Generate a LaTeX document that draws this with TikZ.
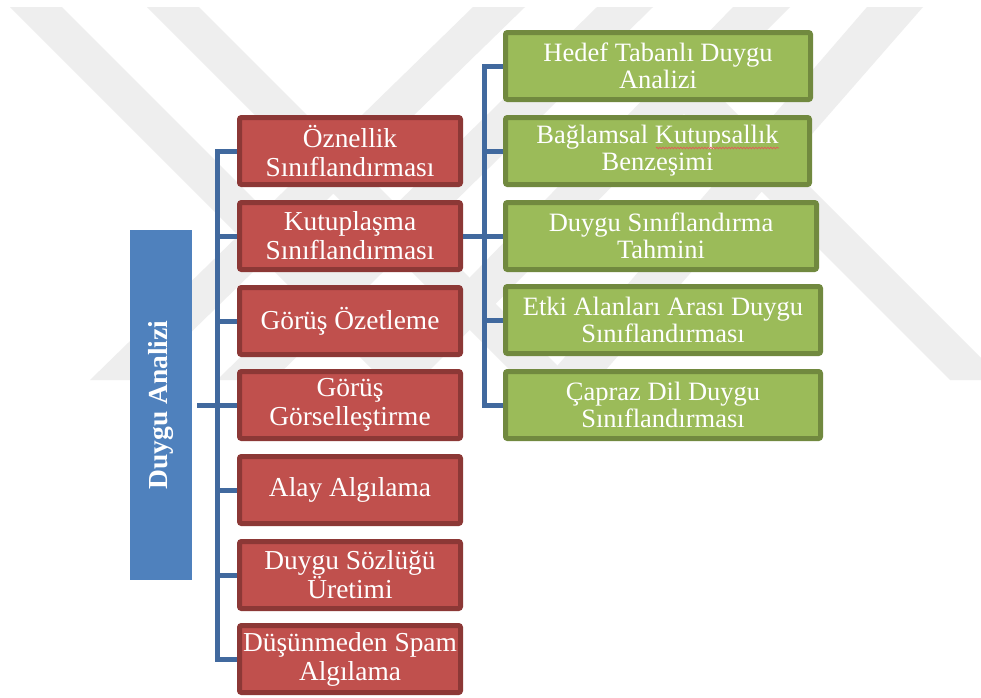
\documentclass[tikz,border=0pt]{standalone}
\usepackage{fontspec}
\setmainfont{Liberation Serif}
\usetikzlibrary{decorations.pathmorphing}
\definecolor{redfill}{HTML}{C0504D}
\definecolor{redline}{HTML}{8C3836}
\definecolor{greenfill}{HTML}{9BBB59}
\definecolor{greenline}{HTML}{71893F}
\definecolor{bluefill}{HTML}{4F81BD}
\definecolor{connblue}{HTML}{41699E}
\definecolor{wm}{gray}{0.935}
\definecolor{spell}{RGB}{228,90,90}
\begin{document}
\begin{tikzpicture}[x=1pt,y=-1pt,
  redbox/.style={draw=redline, fill=redfill, line width=5pt, rounded corners=2pt,
    minimum width=221pt, minimum height=67pt, inner sep=0pt, text=white, align=center,
    font=\fontsize{27.4}{29}\selectfont},
  greenbox/.style={draw=greenline, fill=greenfill, line width=5pt, rounded corners=2pt,
    minimum height=67pt, inner sep=0pt, text=white, align=center,
    font=\fontsize{26.5}{27}\selectfont},
  rootbox/.style={fill=bluefill, minimum width=62pt, minimum height=350pt, inner sep=0pt,
    text=white, font=\bfseries\fontsize{27.5}{30}\selectfont},
  conn/.style={draw=connblue, line width=5pt},
  wmband/.style={fill=wm}
]
\useasboundingbox (0,0) rectangle (981,697);
\fill[white] (0,0) rectangle (981,697);
% watermark
\fill[wmband] (10,7) -- (62,7) -- (435,380) -- (383,380) -- cycle;
\fill[wmband] (147,7) -- (199,7) -- (572,380) -- (520,380) -- cycle;
\fill[wmband] (473,7) -- (525,7) -- (142,380) -- (90,380) -- cycle;
\fill[wmband] (597,7) -- (653,7) -- (273,380) -- (217,380) -- cycle;
\fill[wmband] (733,7) -- (790,7) -- (420,380) -- (370,380) -- cycle;
\fill[wmband] (867,7) -- (923,7) -- (597,380) -- (545,380) -- cycle;
\fill[wmband] (655,85) -- (708,85) -- (1003,380) -- (950,380) -- cycle;

% root
\node[rootbox] (root) at (161,405) {\rotatebox{90}{Duygu Analizi}};

% red boxes
\node[redbox] (r1) at (350,151) {Öznellik\\Sınıflandırması};
\node[redbox] (r2) at (350,236) {Kutuplaşma\\Sınıflandırması};
\node[redbox] (r3) at (350,321) {Görüş Özetleme};
\node[redbox] (r4) at (350,405) {Görüş\\Görselleştirme};
\node[redbox] (r5) at (350,490) {Alay Algılama};
\node[redbox] (r6) at (350,575) {Duygu Sözlüğü\\Üretimi};
\node[redbox] (r7) at (350,659) {Düşünmeden Spam\\Algılama};

% green boxes
\node[greenbox, minimum width=305pt] (g1) at (658,66) {Hedef Tabanlı Duygu\\Analizi};
\node[greenbox, minimum width=304pt] (g2) at (657.5,151) {Bağlamsal Kutupsallık\\Benzeşimi};
\node[greenbox, minimum width=311pt] (g3) at (661,236) {Duygu Sınıflandırma\\Tahmini};
\node[greenbox, minimum width=315pt] (g4) at (663,320) {Etki Alanları Arası Duygu\\Sınıflandırması};
\node[greenbox, minimum width=315pt] (g5) at (663,405) {Çapraz Dil Duygu\\Sınıflandırması};

% spell-check underline
\draw[spell, line width=0.7pt, decorate, decoration={snake, amplitude=0.8pt, segment length=3pt}]
  (656,148) -- (779,148);

% connectors
\coordinate (lt) at (217.5,0);
\coordinate (rt) at (484.5,0);
\draw[conn] (r1.west) -| (r7.west -| lt) -- (r7.west);
\foreach \i in {2,...,6} \draw[conn] (r\i.west) -- (r\i.west -| lt);
\draw[conn, shorten <=5pt] (root.east) -- (root.east -| lt);
\draw[conn] (r2.east) -- (r2.east -| rt);
\draw[conn] (g1.west) -| (g5.west -| rt) -- (g5.west);
\foreach \i in {2,3,4} \draw[conn] (g\i.west) -- (g\i.west -| rt);
\end{tikzpicture}
\end{document}
